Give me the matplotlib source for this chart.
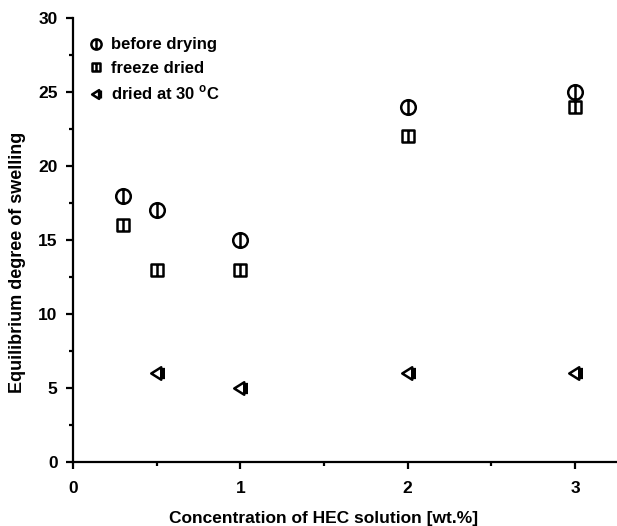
import numpy as np
import matplotlib
matplotlib.use('Agg')
import matplotlib.pyplot as plt
from matplotlib.path import Path
from matplotlib.ticker import MultipleLocator

plt.rcParams['font.family'] = ['Liberation Sans', 'DejaVu Sans']
plt.rcParams['font.weight'] = 'bold'
plt.rcParams['mathtext.fontset'] = 'custom'
plt.rcParams['mathtext.rm'] = 'Liberation Sans:bold'

# data
x_before = [0.3, 0.5, 1, 2, 3]
y_before = [18, 17, 15, 24, 25]
x_freeze = [0.3, 0.5, 1, 2, 3]
y_freeze = [16, 13, 13, 22, 24]
x_dried = [0.5, 1, 2, 3]
y_dried = [6, 5, 6, 6]

labels = ['before drying', 'freeze dried', 'dried at 30 $^{\\mathrm{o}}$C']

# custom markers: shape with a vertical bar through it
circ_bar = Path.make_compound_path(Path.unit_circle(),
                                   Path([[0, -1], [0, 1]], [Path.MOVETO, Path.LINETO]))
sq = Path([[-1, -1], [1, -1], [1, 1], [-1, 1], [-1, -1]],
          [Path.MOVETO, Path.LINETO, Path.LINETO, Path.LINETO, Path.CLOSEPOLY])
sq_bar = Path.make_compound_path(sq, Path([[0, -1], [0, 1]], [Path.MOVETO, Path.LINETO]))
tri = Path([[-1, 0], [0.6, -1], [0.6, 1], [-1, 0]],
           [Path.MOVETO, Path.LINETO, Path.LINETO, Path.CLOSEPOLY])
tri_bar = Path.make_compound_path(tri, Path([[1, -0.9], [1, 0.9]], [Path.MOVETO, Path.LINETO]))

fig = plt.figure(figsize=(6.17, 5.26), dpi=100)
ax = fig.add_axes([0.118, 0.1217, 0.882, 0.8441])

kw = dict(linestyle='none', mfc='none', mec='black', mew=1.8)
ax.plot(x_before, y_before, marker=circ_bar, ms=10.5, label=labels[0], **kw)
ax.plot(x_freeze, y_freeze, marker=sq_bar, ms=9, label=labels[1], **kw)
ax.plot(x_dried, y_dried, marker=tri_bar, ms=9, label=labels[2], **kw)

ax.set_xlim(0, 3.25)
ax.set_ylim(0, 30)
ax.xaxis.set_major_locator(MultipleLocator(1))
ax.xaxis.set_minor_locator(MultipleLocator(0.5))
ax.yaxis.set_major_locator(MultipleLocator(5))
ax.yaxis.set_minor_locator(MultipleLocator(2.5))

for s in ['top', 'right']:
    ax.spines[s].set_visible(False)
for s in ['left', 'bottom']:
    ax.spines[s].set_linewidth(1.6)
ax.tick_params(which='major', length=5, width=1.6, labelsize=12.5, pad=6)
ax.tick_params(axis='x', which='major', pad=9)
ax.tick_params(which='minor', length=3, width=1.6)
for t in ax.get_xticklabels() + ax.get_yticklabels():
    t.set_fontweight('bold')

ax.set_xlabel('Concentration of HEC solution [wt.%]', fontsize=12.5, fontweight='bold')
ax.set_ylabel('Equilibrium degree of swelling', fontsize=13, fontweight='bold')
ax.xaxis.set_label_coords(0.46, -0.11)
ax.yaxis.set_label_coords(-0.086, 0.45)

leg = ax.legend(loc='upper left', bbox_to_anchor=(0.003, 0.99), frameon=False,
                fontsize=12, markerscale=0.7, handlelength=0.8, handletextpad=0.5,
                labelspacing=0.5)
for t in leg.get_texts():
    t.set_fontweight('bold')

fig.savefig('out.png', dpi=100)
